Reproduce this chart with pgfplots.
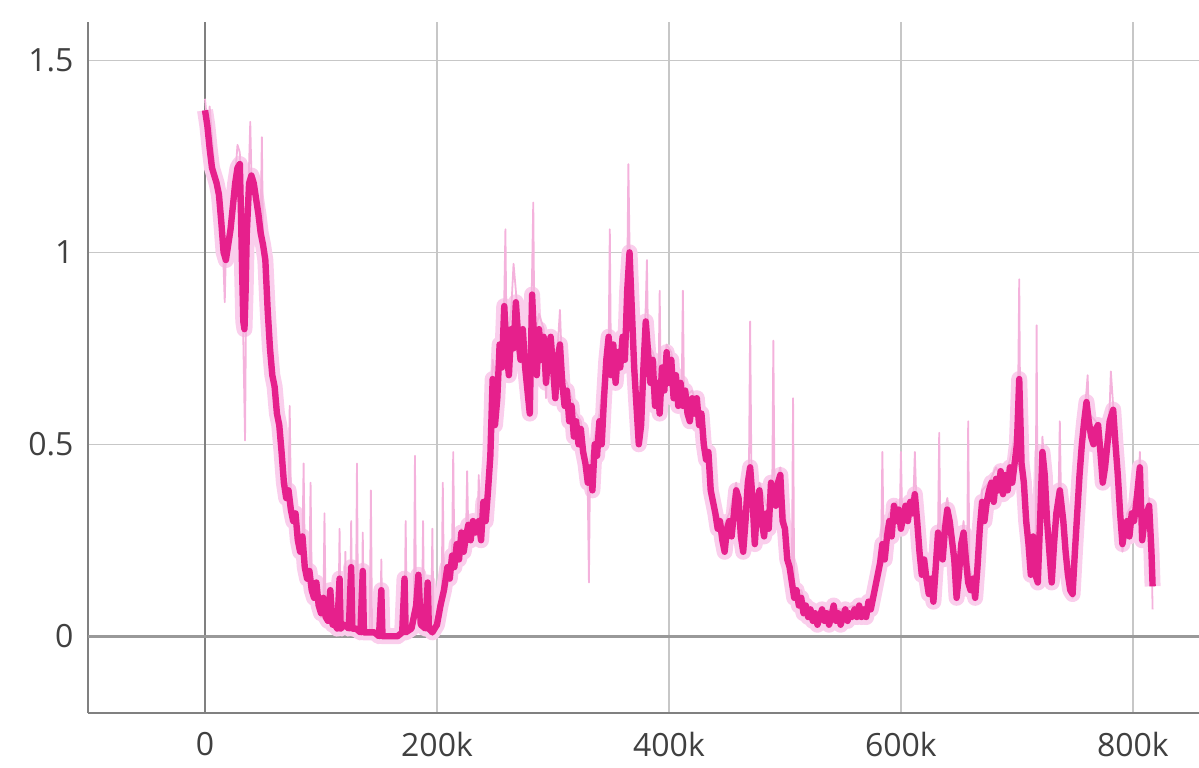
\documentclass[border=0pt]{standalone}
\usepackage{pgfplots}
\pgfplotsset{compat=1.18}
\usepackage{pgfplotstable}
\usepackage{fontspec}
\setmainfont{Open Sans}
\definecolor{darkp}{RGB}{230,32,140}
\definecolor{lightp}{RGB}{244,178,220}
\definecolor{halo}{RGB}{250,206,236}

\pgfplotstableread{
x d
0 1.37
2 1.33
4 1.27
6 1.22
8 1.20
10 1.18
12 1.15
14 1.08
16 1.00
18 0.98
20 1.02
22 1.06
24 1.12
26 1.18
28 1.22
30 1.23
31 1.10
32 0.95
33 0.82
34 0.80
35 0.90
36 1.05
38 1.18
40 1.20
42 1.18
44 1.14
46 1.10
48 1.05
50 1.02
52 0.98
54 0.85
56 0.75
58 0.68
60 0.65
62 0.58
64 0.55
66 0.48
68 0.40
70 0.36
72 0.38
74 0.33
76 0.30
78 0.32
80 0.25
82 0.22
84 0.26
86 0.18
88 0.15
90 0.17
92 0.12
94 0.10
96 0.14
98 0.08
100 0.06
102 0.10
104 0.05
106 0.04
108 0.12
110 0.03
112 0.03
114 0.02
116 0.15
117 0.02
120 0.03
124 0.02
126 0.18
127 0.02
130 0.02
134 0.01
136 0.17
137 0.01
140 0.01
146 0.01
150 0.00
152 0.12
153 0.00
160 0.00
166 0.00
170 0.01
172 0.15
173 0.01
178 0.02
182 0.08
184 0.16
186 0.03
190 0.02
192 0.14
193 0.02
196 0.01
200 0.03
203 0.08
206 0.12
209 0.18
211 0.15
213 0.21
215 0.18
217 0.24
219 0.20
221 0.27
223 0.22
225 0.26
227 0.29
229 0.25
231 0.30
233 0.27
236 0.30
238 0.25
240 0.35
242 0.30
244 0.38
246 0.47
248 0.67
250 0.55
252 0.62
254 0.76
256 0.70
258 0.86
260 0.74
262 0.68
264 0.80
266 0.75
268 0.87
270 0.78
272 0.72
274 0.80
276 0.70
278 0.64
280 0.58
282 0.89
284 0.75
286 0.68
288 0.80
290 0.72
292 0.78
294 0.66
296 0.74
298 0.78
300 0.70
302 0.62
304 0.72
306 0.76
308 0.66
310 0.60
312 0.64
314 0.56
316 0.60
318 0.52
320 0.56
322 0.50
324 0.54
326 0.48
328 0.45
330 0.40
332 0.44
334 0.38
336 0.50
338 0.47
340 0.56
342 0.50
344 0.62
346 0.72
348 0.78
350 0.68
352 0.76
354 0.66
356 0.74
358 0.70
360 0.78
362 0.72
364 0.90
366 1.00
368 0.85
370 0.70
372 0.60
374 0.50
376 0.55
378 0.70
380 0.82
382 0.74
384 0.66
386 0.72
388 0.60
390 0.66
392 0.58
394 0.70
396 0.64
398 0.74
400 0.66
402 0.72
404 0.62
406 0.68
408 0.60
410 0.66
412 0.60
414 0.64
416 0.58
418 0.56
420 0.62
422 0.58
424 0.62
426 0.55
428 0.58
430 0.50
432 0.46
434 0.48
436 0.38
438 0.35
440 0.32
442 0.28
444 0.30
446 0.25
448 0.22
450 0.28
452 0.30
454 0.26
456 0.32
458 0.38
460 0.36
462 0.26
464 0.22
466 0.30
468 0.40
470 0.44
472 0.36
474 0.24
476 0.34
478 0.38
480 0.30
482 0.26
484 0.32
486 0.28
488 0.40
490 0.36
492 0.34
494 0.40
496 0.42
498 0.30
500 0.28
502 0.20
504 0.18
506 0.14
508 0.10
510 0.12
512 0.08
514 0.10
516 0.06
518 0.08
520 0.05
522 0.07
524 0.04
526 0.06
528 0.03
530 0.05
532 0.07
534 0.04
536 0.06
538 0.03
540 0.05
542 0.08
544 0.04
546 0.06
548 0.03
550 0.05
552 0.07
554 0.04
556 0.06
558 0.05
560 0.07
562 0.05
564 0.08
566 0.05
568 0.07
570 0.05
572 0.09
574 0.07
576 0.10
578 0.13
580 0.16
582 0.19
584 0.24
586 0.20
588 0.26
590 0.30
592 0.26
594 0.34
596 0.30
598 0.33
600 0.28
602 0.31
604 0.34
606 0.30
608 0.35
610 0.32
612 0.37
614 0.30
616 0.22
618 0.16
620 0.20
622 0.15
624 0.11
626 0.15
628 0.09
630 0.18
632 0.27
634 0.24
636 0.20
638 0.28
640 0.33
642 0.30
644 0.25
646 0.20
648 0.10
650 0.16
652 0.24
654 0.27
656 0.20
658 0.14
660 0.12
662 0.15
664 0.10
666 0.18
668 0.28
670 0.35
672 0.30
674 0.35
676 0.38
678 0.40
680 0.35
682 0.41
684 0.38
686 0.43
688 0.37
690 0.42
692 0.38
694 0.44
696 0.40
698 0.45
700 0.50
702 0.67
704 0.45
706 0.40
708 0.30
710 0.24
712 0.16
714 0.26
716 0.16
718 0.14
720 0.30
722 0.48
724 0.42
726 0.30
728 0.22
730 0.14
732 0.24
734 0.32
737 0.38
740 0.30
742 0.22
744 0.16
746 0.12
748 0.11
750 0.22
752 0.32
754 0.42
756 0.50
758 0.56
760 0.61
762 0.56
764 0.52
766 0.50
768 0.54
770 0.55
772 0.48
774 0.40
776 0.44
778 0.50
780 0.56
783 0.59
785 0.50
787 0.42
789 0.32
791 0.24
793 0.28
795 0.30
797 0.26
799 0.32
801 0.30
803 0.35
806 0.44
808 0.25
810 0.30
812 0.32
814 0.34
816 0.22
817 0.13
}\smoothed

\pgfplotstableread{
x y
0 1.40
3 1.30
4 1.38
8 1.22
12 1.18
15 1.05
17 0.87
18 1.00
22 1.08
26 1.20
28 1.28
30 1.26
32 0.95
34.5 0.51
35.5 0.90
37 1.12
39 1.34
40 1.20
44 1.15
48 1.08
49 1.30
50 1.03
54 0.88
56 0.72
58 0.70
60 0.62
63 0.56
66 0.50
70 0.40
72 0.38
73 0.60
74 0.36
78 0.30
82 0.24
84 0.24
85 0.45
86 0.20
90 0.16
91 0.40
92 0.13
98 0.10
100 0.05
102 0.06
103 0.32
104 0.05
110 0.03
115 0.03
116 0.28
117 0.02
120 0.02
121 0.22
122 0.02
125 0.02
126 0.30
127 0.02
130 0.02
131 0.45
132 0.02
135 0.02
136 0.27
137 0.01
142 0.01
143 0.38
144 0.01
150 0.00
151 0.00
152 0.20
153 0.00
165 0.00
170 0.01
172 0.01
173 0.30
174 0.01
180 0.02
181 0.47
182 0.05
187 0.03
188 0.30
189 0.02
195 0.02
196 0.28
197 0.02
202 0.08
204 0.10
205 0.40
206 0.12
213 0.22
214 0.48
215 0.20
221 0.28
225 0.26
226 0.43
227 0.26
232 0.30
235 0.28
236 0.42
237 0.28
242 0.32
244 0.40
246 0.55
248 0.72
252 0.65
258 0.88
259 1.06
260 0.76
264 0.85
266 0.97
268 0.90
272 0.75
276 0.73
280 0.60
282 0.95
283 1.13
284 0.78
288 0.84
292 0.80
294 0.62
296 0.78
300 0.74
304 0.75
306 0.85
308 0.68
312 0.66
316 0.62
320 0.58
324 0.56
328 0.47
330 0.38
331 0.14
332 0.46
336 0.52
340 0.58
346 0.74
348 0.76
349 1.06
350 0.70
354 0.70
358 0.74
362 0.76
364 0.92
365 1.23
366 1.02
368 0.88
370 0.72
374 0.52
378 0.72
380 0.86
381 0.98
382 0.76
386 0.74
390 0.70
391 0.66
392 0.90
393 0.62
398 0.76
402 0.74
406 0.66
411 0.64
412 0.90
413 0.62
420 0.64
426 0.58
430 0.52
436 0.40
440 0.34
446 0.28
452 0.32
458 0.40
462 0.26
468 0.44
469 0.44
470 0.82
471 0.46
474 0.28
478 0.40
484 0.34
489 0.36
490 0.77
491 0.38
496 0.44
500 0.32
504 0.20
506 0.16
507 0.62
508 0.12
514 0.12
520 0.06
530 0.06
540 0.07
550 0.07
560 0.08
570 0.07
576 0.12
580 0.18
583 0.24
584 0.48
585 0.26
590 0.32
596 0.35
599 0.30
600 0.48
601 0.32
606 0.33
611 0.38
612 0.48
613 0.38
618 0.18
624 0.12
630 0.20
632 0.27
633 0.53
634 0.26
640 0.36
646 0.22
648 0.12
654 0.30
657 0.16
658 0.56
659 0.18
664 0.12
670 0.38
676 0.40
682 0.44
688 0.40
694 0.46
700 0.55
701 0.62
702 0.93
703 0.50
706 0.42
712 0.18
716 0.18
717 0.81
718 0.16
722 0.52
726 0.34
730 0.14
734 0.36
736 0.38
737 0.56
738 0.36
744 0.16
748 0.10
752 0.34
756 0.52
760 0.64
761 0.68
762 0.58
768 0.56
774 0.42
780 0.60
781 0.69
783 0.60
788 0.34
791 0.22
795 0.32
799 0.34
803 0.38
805 0.40
806 0.48
808 0.26
812 0.32
814 0.36
816 0.22
817 0.07
}\raw

\begin{document}
\begin{tikzpicture}
\begin{axis}[
  scale only axis, width=555.5pt, height=345.5pt,
  xmin=-100.9, xmax=857, ymin=-0.2, ymax=1.6,
  axis x line*=bottom, axis y line*=left,
  axis line style={draw=black!50, line width=0.7pt, -},
  xtick={0,200,400,600,800}, xticklabels={0,200k,400k,600k,800k},
  ytick={0,0.5,1,1.5}, yticklabels={0,0.5,1,1.5},
  major tick length=0pt,
  grid=major, major grid style={draw=black!22, line width=0.7pt},
  tick label style={font=\fontsize{16}{19}\selectfont, text=black!75},
  xticklabel style={yshift=-6pt},
  yticklabel style={xshift=-3.7pt},
]
\draw[black!50, line width=0.9pt] (axis cs:0,-0.2) -- (axis cs:0,1.6);
\draw[black!40, line width=1.4pt] (axis cs:-100.9,0) -- (axis cs:857,0);
\addplot[halo, line width=8pt, line join=round, no marks] table[x=x,y=d] {\smoothed};
\addplot[lightp, line width=0.9pt, line join=round, no marks] table[x=x,y=y] {\raw};
\addplot[darkp, line width=3.2pt, line join=round, no marks] table[x=x,y=d] {\smoothed};
\end{axis}
\pgfresetboundingbox
\path[use as bounding box] (-44pt,-27pt) rectangle (555.5pt,356.5pt);
\end{tikzpicture}
\end{document}
